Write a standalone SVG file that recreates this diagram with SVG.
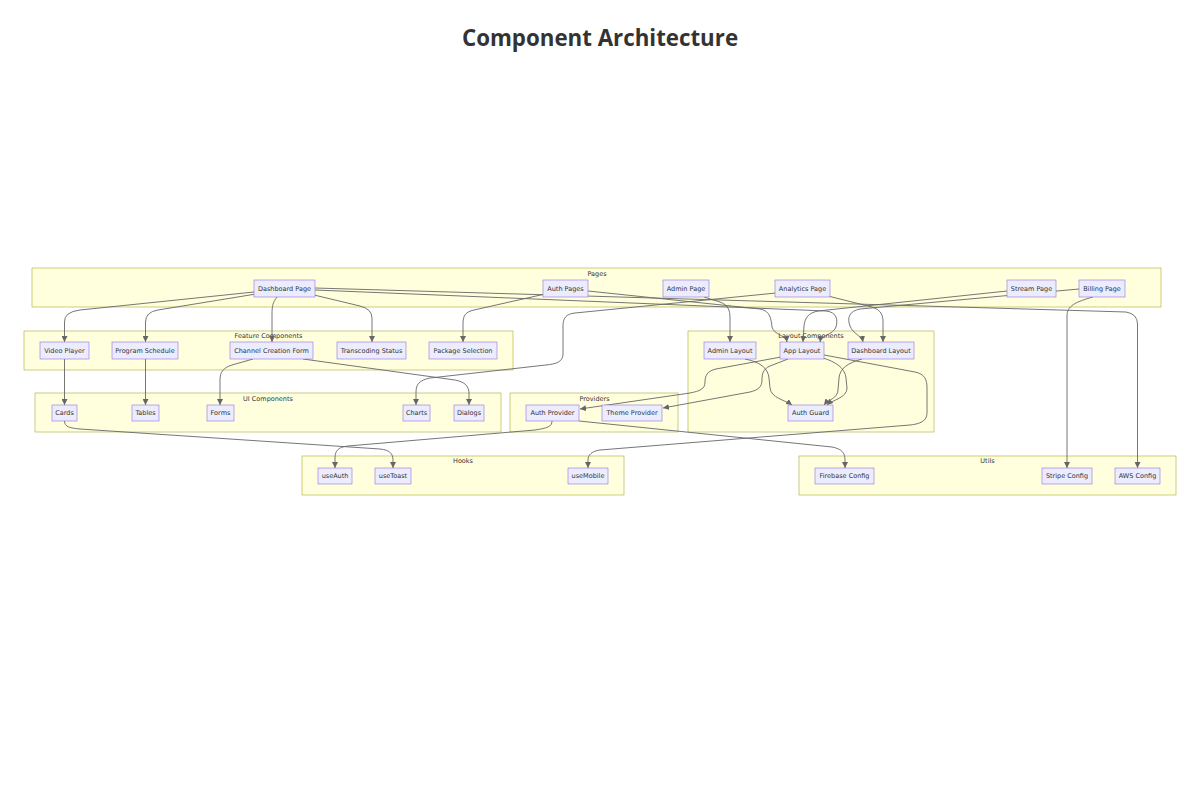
<svg xmlns="http://www.w3.org/2000/svg" width="1200" height="800" viewBox="0 0 1200 800">
<style>
.cl{fill:#ffffde;stroke:#aaaa33;stroke-width:0.6}
.cll{font-family:"DejaVu Sans",sans-serif;font-size:6.5px;fill:#333;text-anchor:middle}
.nd rect{fill:#ECECFF;stroke:#9370DB;stroke-width:0.6}
.nd text{font-family:"DejaVu Sans",sans-serif;font-size:6.5px;fill:#333;text-anchor:middle}
.ed path{fill:none;stroke:#666;stroke-width:0.9;marker-end:url(#ah)}
.title{font-family:"Open Sans",sans-serif;font-weight:700;font-size:22.3px;fill:#333;text-anchor:middle}
</style>
<defs>
<marker id="ah" viewBox="0 0 10 10" refX="10" refY="5" markerWidth="6" markerHeight="6" markerUnits="userSpaceOnUse" orient="auto">
<path d="M0,0 L10,5 L0,10 z" fill="#666"/>
</marker>
</defs>
<rect width="1200" height="800" fill="#ffffff"/>
<text class="title" x="600" y="46">Component Architecture</text>

<g id="clusters">
<g id="cluster-pages"><rect class="cl" x="32" y="268" width="1129" height="39"/><text class="cll" x="597" y="276">Pages</text></g>
<g id="cluster-feature"><rect class="cl" x="24" y="331" width="489" height="39"/><text class="cll" x="268.5" y="338">Feature Components</text></g>
<g id="cluster-layout"><rect class="cl" x="688" y="331" width="246" height="101"/><text class="cll" x="811" y="338">Layout Components</text></g>
<g id="cluster-ui"><rect class="cl" x="35" y="393" width="466" height="39"/><text class="cll" x="268" y="401">UI Components</text></g>
<g id="cluster-providers"><rect class="cl" x="510" y="393" width="168" height="39"/><text class="cll" x="594.5" y="401">Providers</text></g>
<g id="cluster-hooks"><rect class="cl" x="302" y="456" width="322" height="39"/><text class="cll" x="463" y="463">Hooks</text></g>
<g id="cluster-utils"><rect class="cl" x="799" y="456" width="377" height="39"/><text class="cll" x="987.5" y="463">Utils</text></g>
</g>

<g id="connectors" class="ed">
<path d="M254,292 L80,310 Q64,312 64.5,322 L64.5,342"/>
<path d="M256,294 L158,310 Q145.5,312 145.5,322 L145.5,342"/>
<path d="M277,297 C273,302 272,306 272,314 L272,342"/>
<path d="M314,295 L360,306 Q372,309 372,318 L372,342"/>
<path d="M315,288 L1126,312 Q1137.5,314 1137.5,324 L1137.5,468"/>
<path d="M315,290 L826,311 C837,312 838,320 836,327 C833,335 821,335 820,342"/>
<path d="M588,291 L760,309 C771,311 771,320 772,327 C774,335 786,335 787,342"/>
<path d="M704,297 L720,302 C728,305 730,310 730,318 L730,342"/>
<path d="M828,296 L872,307 C881,310 883,315 883,322 L883,342"/>
<path d="M776,293 L575,313 C566,314 563,318 563,326 L563,354 C563,362 556,364 546,365 L430,378 C420,380 416,384 416,392 L416,405"/>
<path d="M1007,291 L818,311 C808,313 805,318 804,326 L803,342"/>
<path d="M1079,289 L860,309 C849,311 847,318 850,326 C853,334 862,336 863,342"/>
<path d="M1093,297 C1075,302 1067,306 1067,316 L1067,468"/>
<path d="M545,294 L474,310 C465,312 463,316 463,324 L463,342"/>
<path d="M64.5,359 L64.5,405"/>
<path d="M145.5,359 L145.5,405"/>
<path d="M253,359 L232,365 C223,368 220,372 220,380 L220,405"/>
<path d="M303,359 L455,380 C465,382 469,386 469,394 L469,405"/>
<path d="M64.5,421 C64.5,427 70,428 80,429 L380,449 C390,450 393,454 393,460 L393,468"/>
<path d="M552,421 C552,427 547,428 535,430 L348,446 C338,447 335,451 335,458 L335,468"/>
<path d="M579,421 L832,447 C842,449 845,453 845,460 L845,468"/>
<path d="M781,357 L716,369 C707,371 705,376 705,382 C705,389 700,391 690,393 L580,409"/>
<path d="M788,359 L770,366 C763,369 762,374 762,380 C762,387 758,390 750,392 L663,408"/>
<path d="M745,359 C760,362 768,368 769,378 L770,388 C771,398 785,400 792,405"/>
<path d="M823,358 C836,362 845,368 846,378 L847,388 C847,398 832,400 827,405"/>
<path d="M862,359 C848,363 840,368 839,378 L838,390 C838,398 828,400 824,405"/>
<path d="M824,355 L915,372 C925,374 927,380 927,388 L927,413 C927,421 920,424 910,425 L600,450 C592,451 588,455 588,460 L588,468"/>
</g>

<g id="nodes">
<g id="n-dashboard-page" class="nd"><rect x="254" y="280" width="61" height="17"/><text x="284.5" y="290.8">Dashboard Page</text></g>
<g id="n-auth-pages" class="nd"><rect x="543" y="280" width="45" height="17"/><text x="565.5" y="290.8">Auth Pages</text></g>
<g id="n-admin-page" class="nd"><rect x="663" y="280" width="46" height="17"/><text x="686" y="290.8">Admin Page</text></g>
<g id="n-analytics-page" class="nd"><rect x="775" y="280" width="55" height="17"/><text x="802.5" y="290.8">Analytics Page</text></g>
<g id="n-stream-page" class="nd"><rect x="1007" y="280" width="49" height="17"/><text x="1031.5" y="290.8">Stream Page</text></g>
<g id="n-billing-page" class="nd"><rect x="1079" y="280" width="46" height="17"/><text x="1102" y="290.8">Billing Page</text></g>

<g id="n-video-player" class="nd"><rect x="40" y="342" width="49" height="17"/><text x="64.5" y="352.8">Video Player</text></g>
<g id="n-program-schedule" class="nd"><rect x="112" y="342" width="66" height="17"/><text x="145" y="352.8">Program Schedule</text></g>
<g id="n-channel-creation-form" class="nd"><rect x="230" y="342" width="83" height="17"/><text x="271.5" y="352.8">Channel Creation Form</text></g>
<g id="n-transcoding-status" class="nd"><rect x="337" y="342" width="69" height="17"/><text x="371.5" y="352.8">Transcoding Status</text></g>
<g id="n-package-selection" class="nd"><rect x="429" y="342" width="68" height="17"/><text x="463" y="352.8">Package Selection</text></g>
<g id="n-admin-layout" class="nd"><rect x="704" y="342" width="52" height="17"/><text x="730" y="352.8">Admin Layout</text></g>
<g id="n-app-layout" class="nd"><rect x="780" y="342" width="44" height="17"/><text x="802" y="352.8">App Layout</text></g>
<g id="n-dashboard-layout" class="nd"><rect x="848" y="342" width="66" height="17"/><text x="881" y="352.8">Dashboard Layout</text></g>

<g id="n-cards" class="nd"><rect x="52" y="405" width="25" height="16"/><text x="64.5" y="415.3">Cards</text></g>
<g id="n-tables" class="nd"><rect x="132" y="405" width="27" height="16"/><text x="145.5" y="415.3">Tables</text></g>
<g id="n-forms" class="nd"><rect x="207" y="405" width="27" height="16"/><text x="220.5" y="415.3">Forms</text></g>
<g id="n-charts" class="nd"><rect x="403" y="405" width="27" height="16"/><text x="416.5" y="415.3">Charts</text></g>
<g id="n-dialogs" class="nd"><rect x="454" y="405" width="30" height="16"/><text x="469" y="415.3">Dialogs</text></g>
<g id="n-auth-provider" class="nd"><rect x="526" y="405" width="53" height="16"/><text x="552.5" y="415.3">Auth Provider</text></g>
<g id="n-theme-provider" class="nd"><rect x="602" y="405" width="60" height="16"/><text x="632" y="415.3">Theme Provider</text></g>
<g id="n-auth-guard" class="nd"><rect x="788" y="405" width="45" height="16"/><text x="810.5" y="415.3">Auth Guard</text></g>

<g id="n-useauth" class="nd"><rect x="318" y="468" width="34" height="16"/><text x="335" y="478.3">useAuth</text></g>
<g id="n-usetoast" class="nd"><rect x="375" y="468" width="36" height="16"/><text x="393" y="478.3">useToast</text></g>
<g id="n-usemobile" class="nd"><rect x="568" y="468" width="40" height="16"/><text x="588" y="478.3">useMobile</text></g>
<g id="n-firebase-config" class="nd"><rect x="815" y="468" width="59" height="16"/><text x="844.5" y="478.3">Firebase Config</text></g>
<g id="n-stripe-config" class="nd"><rect x="1042" y="468" width="50" height="16"/><text x="1067" y="478.3">Stripe Config</text></g>
<g id="n-aws-config" class="nd"><rect x="1115" y="468" width="45" height="16"/><text x="1137.5" y="478.3">AWS Config</text></g>
</g>
</svg>
